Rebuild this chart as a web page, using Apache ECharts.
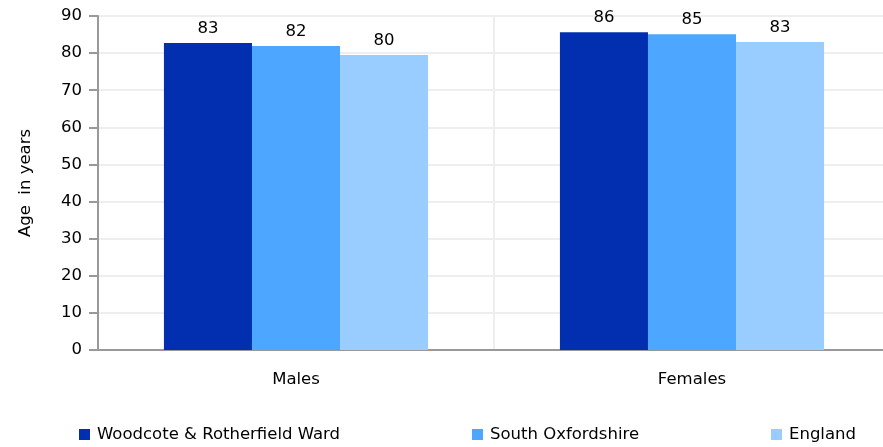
<!DOCTYPE html>
<html><head><meta charset="utf-8">
<script src="https://cdn.jsdelivr.net/npm/echarts@6/dist/echarts.min.js"></script>
<style>html,body{margin:0;padding:0;background:#fff}#c{width:883px;height:447px}</style>
</head><body><div id="c"></div>
<script>
const categories = ['Males', 'Females'];
const seriesNames = ['Woodcote & Rotherfield Ward', 'South Oxfordshire', 'England'];
const wardValues = [82.7, 85.6];
const districtValues = [81.9, 85.1];
const englandValues = [79.5, 83.0];
const colors = ['#022fb0', '#4da6ff', '#99ccff'];
const yTicks = [0, 10, 20, 30, 40, 50, 60, 70, 80, 90];

const chart = echarts.init(document.getElementById('c'), null, {renderer: 'canvas'});
const font = 'DejaVu Sans, sans-serif';
const fs = 16.5;
const dataSets = [wardValues, districtValues, englandValues];
const legendLefts = [79, 472, 771];
chart.setOption({
  animation: false,
  textStyle: {fontFamily: font},
  grid: {left: 98, width: 792, top: 16, bottom: 97, containLabel: false, outerBoundsMode: 'none'},
  legend: seriesNames.map((n, i) => ({
    bottom: 4, left: legendLefts[i], padding: 0, itemWidth: 11, itemHeight: 11,
    icon: 'rect',
    textStyle: {fontFamily: font, fontSize: fs, color: '#000', padding: [0, 0, 0, 2]},
    data: [n]
  })),
  xAxis: {
    type: 'category', data: categories,
    axisLine: {lineStyle: {color: '#999', width: 2}},
    axisTick: {show: false},
    axisLabel: {fontFamily: font, fontSize: fs, color: '#000', margin: 21},
    splitLine: {show: true, lineStyle: {color: '#eeeeee', width: 2}}
  },
  yAxis: {
    type: 'value', min: 0, max: 90, interval: 10,
    name: 'Age  in years', nameLocation: 'middle', nameGap: 64, nameRotate: 90,
    nameTextStyle: {fontFamily: font, fontSize: fs, color: '#000'},
    axisLine: {show: true, lineStyle: {color: '#999', width: 2}},
    axisTick: {show: true, length: 9, lineStyle: {color: '#999', width: 2}},
    axisLabel: {fontFamily: font, fontSize: fs, color: '#000', margin: 16,
      formatter: v => yTicks.includes(v) ? String(v) : ''},
    splitLine: {show: true, lineStyle: {color: '#eeeeee', width: 2}}
  },
  series: seriesNames.map((n, i) => ({
    name: n, type: 'bar', data: dataSets[i],
    itemStyle: {color: colors[i]},
    barGap: '0%', barCategoryGap: '33.3%',
    label: {show: true, position: 'top', distance: 6, fontFamily: font, fontSize: fs, color: '#000',
      formatter: p => Math.round(p.value)}
  }))
});
</script></body></html>
